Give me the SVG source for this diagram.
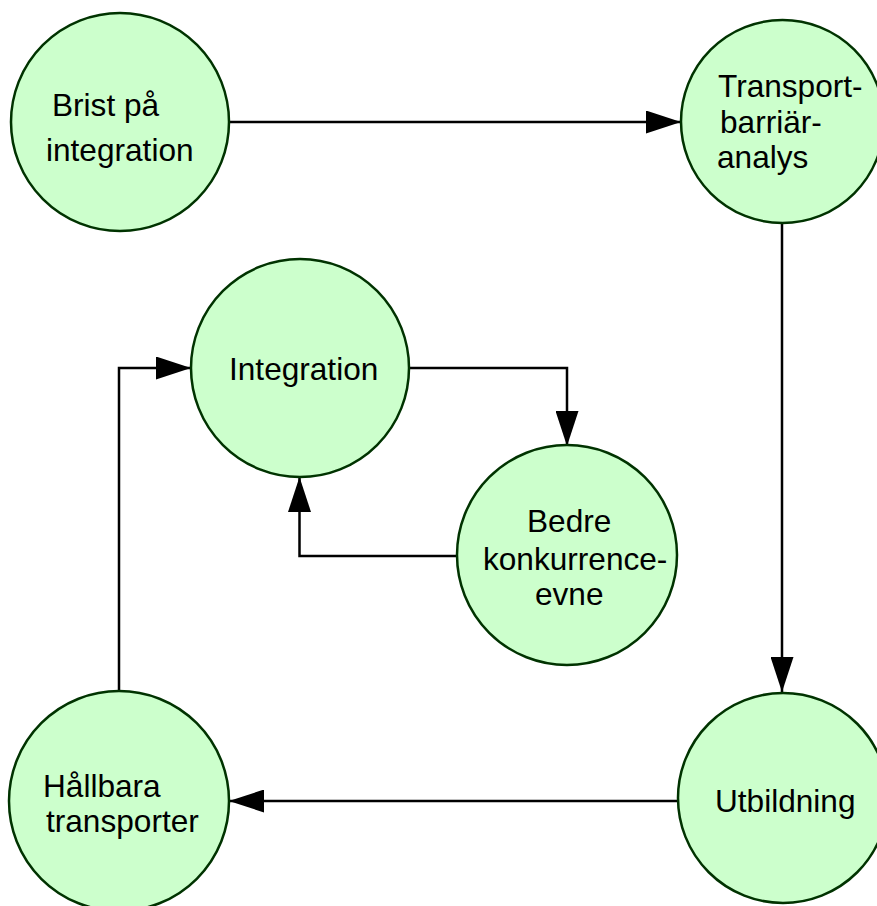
<svg xmlns="http://www.w3.org/2000/svg" width="877" height="906" viewBox="0 0 877 906">
  <style>
    .node circle { fill: #ccffcc; stroke: #003300; stroke-width: 2.5; }
    .node text { font-family: "Liberation Sans", Arial, sans-serif; font-size: 31.6px; fill: #000; }
    .conn path { fill: none; stroke: #000; stroke-width: 2.5; marker-end: url(#arrow); }
  </style>
  <defs>
    <marker id="arrow" viewBox="0 0 35 23" refX="35" refY="11.5" markerWidth="35" markerHeight="23" markerUnits="userSpaceOnUse" orient="auto">
      <path d="M0,0 L35,11.5 L0,23 Z" fill="#000"/>
    </marker>
  </defs>
  <rect width="877" height="906" fill="#fff"/>

  <g id="connectors" class="conn">
    <path d="M229,122 L681,122"/>
    <path d="M782,223 L782,692"/>
    <path d="M678,801 L229,801"/>
    <path d="M119,692 L119,368 L191,368"/>
    <path d="M408,368 L567,368 L567,446"/>
    <path d="M458,556 L299.5,556 L299.5,477"/>
  </g>

  <g id="node-brist" class="node">
    <circle cx="120" cy="122" r="109"/>
    <text x="52" y="116">Brist på</text>
    <text x="46" y="161">integration</text>
  </g>
  <g id="node-transport" class="node">
    <circle cx="782.5" cy="121.5" r="101.5"/>
    <text x="718" y="97">Transport-</text>
    <text x="720" y="133">barriär-</text>
    <text x="717" y="168">analys</text>
  </g>
  <g id="node-integration" class="node">
    <circle cx="300" cy="368" r="109"/>
    <text x="229" y="380">Integration</text>
  </g>
  <g id="node-bedre" class="node">
    <circle cx="567" cy="555" r="110"/>
    <text x="527" y="532">Bedre</text>
    <text x="483" y="570">konkurrence-</text>
    <text x="535" y="605">evne</text>
  </g>
  <g id="node-utbildning" class="node">
    <circle cx="783" cy="798" r="105"/>
    <text x="715" y="812">Utbildning</text>
  </g>
  <g id="node-hallbara" class="node">
    <circle cx="119" cy="801" r="110"/>
    <text x="43" y="797">Hållbara</text>
    <text x="46" y="832">transporter</text>
  </g>
</svg>
